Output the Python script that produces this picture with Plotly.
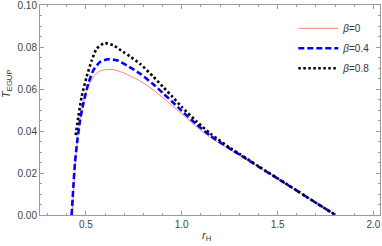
import plotly.graph_objects as go

# beta = 0
r_b0 = [0.429, 0.437, 0.446, 0.452, 0.461, 0.478, 0.504, 0.539, 0.574, 0.61, 0.643, 0.68, 0.713, 0.782,
        0.85, 0.904, 0.95, 1.0, 1.078, 1.15, 1.252, 1.304, 1.4, 1.5, 1.6, 1.7, 1.802]
T_b0 = [0.0, 0.0135, 0.0246, 0.032, 0.0405, 0.0500, 0.0595, 0.0659, 0.0687, 0.0694, 0.0694, 0.0684, 0.0671, 0.0640,
        0.0598, 0.0558, 0.0522, 0.0483, 0.0420, 0.0370, 0.0312, 0.0284, 0.0230, 0.0173, 0.0116, 0.0058, 0.0]

# beta = 0.4
r_b04 = [0.426, 0.435, 0.443, 0.456, 0.470, 0.487, 0.513, 0.539, 0.574, 0.617, 0.661, 0.713, 0.782,
         0.85, 0.904, 0.95, 1.0, 1.078, 1.15, 1.252, 1.304, 1.4, 1.5, 1.6, 1.7, 1.802]
T_b04 = [0.0, 0.0135, 0.0246, 0.0357, 0.0452, 0.0532, 0.0627, 0.0690, 0.0730, 0.0743, 0.0738, 0.0714, 0.0675,
         0.0625, 0.0580, 0.0541, 0.0497, 0.0432, 0.0378, 0.0316, 0.0287, 0.0231, 0.0174, 0.0116, 0.0058, 0.0]

# beta = 0.8
r_b08 = [0.447, 0.461, 0.478, 0.504, 0.531, 0.557, 0.596, 0.643, 0.695, 0.73, 0.782,
         0.85, 0.904, 0.95, 1.0, 1.078, 1.15, 1.252, 1.304, 1.4, 1.5, 1.6, 1.7, 1.802]
T_b08 = [0.0381, 0.0468, 0.0563, 0.0659, 0.0738, 0.0794, 0.0820, 0.0810, 0.0778, 0.0757, 0.0722,
         0.0662, 0.0610, 0.0566, 0.0516, 0.0446, 0.0388, 0.0320, 0.0290, 0.0233, 0.0175, 0.0117, 0.0058, 0.0]

x_ticks = [0.5, 1.0, 1.5, 2.0]
y_ticks = [0.0, 0.02, 0.04, 0.06, 0.08, 0.10]

FONT = "Liberation Sans, Arial, sans-serif"
FRAME = "#9a9a9a"

fig = go.Figure()
fig.add_trace(go.Scatter(x=r_b0, y=T_b0, mode="lines", name="<i>β</i>=0",
                         line=dict(color="#ff7f7f", width=1, shape="spline", smoothing=0.6)))
fig.add_trace(go.Scatter(x=r_b04, y=T_b04, mode="lines", name="<i>β</i>=0.4",
                         line=dict(color="#0000ff", width=2.6, dash="6px,3px", shape="spline", smoothing=0.6)))
fig.add_trace(go.Scatter(x=r_b08, y=T_b08, mode="lines", name="<i>β</i>=0.8",
                         line=dict(color="#000000", width=2.6, dash="2.5px,2.5px", shape="spline", smoothing=0.6)))

fig.update_layout(
    template="none",
    width=382, height=246,
    margin=dict(l=40, r=2, t=5, b=31, pad=0),
    paper_bgcolor="white", plot_bgcolor="white",
    font=dict(family=FONT, size=10, color="#444444"),
    showlegend=True,
    legend=dict(x=0.745, y=0.958, xanchor="left", yanchor="top",
                bgcolor="rgba(0,0,0,0)", font=dict(size=10, color="#333333"),
                tracegroupgap=1, itemwidth=40),
    xaxis=dict(range=[0.261, 2.034], tickvals=x_ticks, ticktext=["%.1f" % v for v in x_ticks],
               automargin=False, ticklabeloverflow="allow",
               showgrid=False, zeroline=False, showline=True, linecolor=FRAME, linewidth=1,
               mirror="ticks", ticks="inside", ticklen=4, tickcolor=FRAME, tickwidth=1,
               minor=dict(dtick=0.1, tick0=0, ticks="inside", ticklen=2, tickcolor=FRAME, showgrid=False),
               tickfont=dict(size=10, color="#444444")),
    yaxis=dict(range=[0, 0.1002], tickvals=y_ticks, ticktext=["%.2f" % v for v in y_ticks],
               automargin=False, ticklabeloverflow="allow",
               showgrid=False, zeroline=False, showline=True, linecolor=FRAME, linewidth=1,
               mirror="ticks", ticks="inside", ticklen=4, tickcolor=FRAME, tickwidth=1,
               minor=dict(dtick=0.005, tick0=0, ticks="inside", ticklen=2, tickcolor=FRAME, showgrid=False),
               tickfont=dict(size=10, color="#444444")),
    annotations=[
        dict(text="<i>T</i><sub>EGUP</sub>", xref="paper", yref="paper", x=-0.097, y=0.624,
             xanchor="center", yanchor="middle",
             showarrow=False, textangle=-90, font=dict(size=11, color="#333333")),
        dict(text="<i>r</i><sub>H</sub>", xref="paper", yref="paper", x=0.491, y=-0.1,
             xanchor="center", yanchor="middle", showarrow=False, font=dict(size=11, color="#333333")),
    ],
)
for i, t in enumerate(fig.data):
    t.legendgroup = "g%d" % i

fig.write_html("out.html", config={"displayModeBar": False},
               post_script="document.body.style.margin='0';document.body.style.padding='0';")
